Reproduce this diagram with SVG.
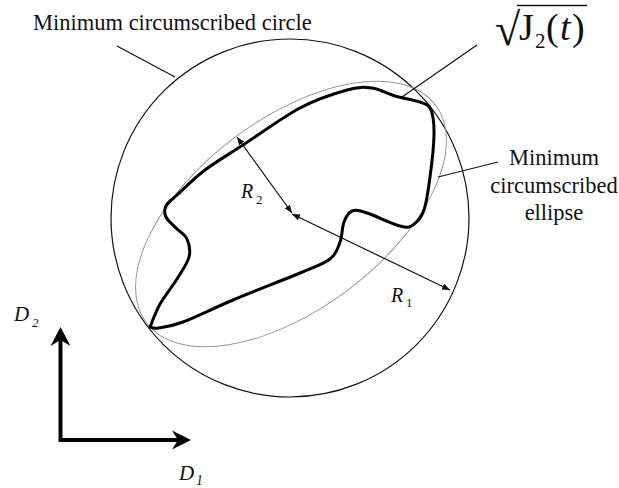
<svg xmlns="http://www.w3.org/2000/svg" width="619" height="488" viewBox="0 0 619 488">
<defs>
<style>
.lbl{font-family:"Liberation Serif","Times New Roman",serif;font-size:22.5px;fill:#111}
.it{font-family:"Liberation Serif","Times New Roman",serif;font-style:italic;fill:#111}
.thin{fill:none;stroke:#111;stroke-width:1.2}
.axis{fill:none;stroke:#000;stroke-width:4}
</style>
<marker id="ah" viewBox="0 0 10 8" refX="10" refY="4" markerWidth="8" markerHeight="6.4" markerUnits="userSpaceOnUse" orient="auto-start-reverse">
<path d="M0,0 L10,4 L0,8 Z" fill="#111"/>
</marker>
</defs>
<rect width="619" height="488" fill="#fff"/>

<g id="circle">
<circle cx="290" cy="218" r="179" class="thin"/>
</g>

<g id="ellipse">
<ellipse cx="291" cy="214" rx="181" ry="95" transform="rotate(-37 291 214)" fill="none" stroke="#999" stroke-width="1"/>
</g>

<g id="j2curve">
<path d="M150,327 C151.7,323.2 155.5,312 160,304 C164.5,296 172.2,286.8 177,279 C181.8,271.2 187.3,263.7 189,257 C190.7,250.3 189.2,243.8 187,239 C184.8,234.2 179.5,231.7 176,228 C172.5,224.3 167.7,220.7 166,217 C164.3,213.3 164.2,209.7 166,206 C167.8,202.3 170.5,201 177,195 C183.5,189 194,178.3 205,170 C216,161.7 227.2,155.3 243,145 C258.8,134.7 282.7,117.2 300,108 C317.3,98.8 335,93.3 347,90 C359,86.7 364,87 372,88 C380,89 387,93.7 395,96 C403,98.3 414,99.7 420,102 C426,104.3 428.7,104.5 431,110 C433.3,115.5 434.2,123.8 434,135 C433.8,146.2 431.7,164.5 430,177 C428.3,189.5 426.8,202 424,210 C421.2,218 417,222.3 413,225 C409,227.7 407.7,228 400,226 C392.3,224 375,215.5 367,213 C359,210.5 355.8,209.5 352,211 C348.2,212.5 346,216.8 344,222 C342,227.2 342.3,235.8 340,242 C337.7,248.2 336.7,253.8 330,259 C323.3,264.2 316.2,266.2 300,273 C283.8,279.8 252.5,291.8 233,300 C213.5,308.2 195.5,317.3 183,322 C170.5,326.7 163.5,327.2 158,328 C152.5,328.8 151.3,327.2 150,327 Z" fill="none" stroke="#000" stroke-width="3" stroke-linejoin="round"/>
</g>

<g id="connectors">
<line x1="117" y1="46" x2="175" y2="77" class="thin"/>
<line x1="477" y1="45" x2="402" y2="97" class="thin"/>
<line x1="498" y1="162" x2="438" y2="177" class="thin"/>
<line x1="292" y1="213" x2="237" y2="137" class="thin" marker-start="url(#ah)" marker-end="url(#ah)"/>
<line x1="292" y1="214" x2="450" y2="290" class="thin" marker-start="url(#ah)" marker-end="url(#ah)"/>
</g>

<g id="axes">
<path d="M60.5,338 L60.5,440 L182,440" class="axis" stroke-linejoin="miter"/>
<polygon points="60.5,327 70.5,346 60.5,340 50.5,346" fill="#000"/>
<polygon points="191,440 172,430.5 178,440 172,449.5" fill="#000"/>
</g>

<g id="labels">
<text class="lbl" x="33" y="30">Minimum circumscribed circle</text>
<text class="lbl" x="554" y="165" text-anchor="middle">Minimum</text>
<text class="lbl" x="554" y="193" text-anchor="middle">circumscribed</text>
<text class="lbl" x="554" y="220" text-anchor="middle">ellipse</text>
<text class="it" x="241" y="198" font-size="20">R</text>
<text class="lbl" x="256" y="204" style="font-size:13px">2</text>
<text class="it" x="391" y="302" font-size="20">R</text>
<text class="lbl" x="406" y="307" style="font-size:13px">1</text>
<text class="it" x="14" y="321" font-size="21">D</text>
<text class="it" x="32" y="327" font-size="13">2</text>
<text class="it" x="179" y="480" font-size="21">D</text>
<text class="it" x="196" y="485" font-size="14">1</text>
</g>

<g id="j2label">
<text class="lbl" x="495" y="45" style="font-size:46px">√</text>
<line x1="517" y1="5.5" x2="587" y2="5.5" stroke="#111" stroke-width="1.6"/>
<text class="lbl" x="519" y="40" style="font-size:38px">J</text>
<text class="lbl" x="535" y="48" style="font-size:21px">2</text>
<text class="lbl" x="546" y="40" style="font-size:38px">(</text>
<text class="it" x="560" y="40" font-size="38">t</text>
<text class="lbl" x="572" y="40" style="font-size:38px">)</text>
</g>
</svg>
